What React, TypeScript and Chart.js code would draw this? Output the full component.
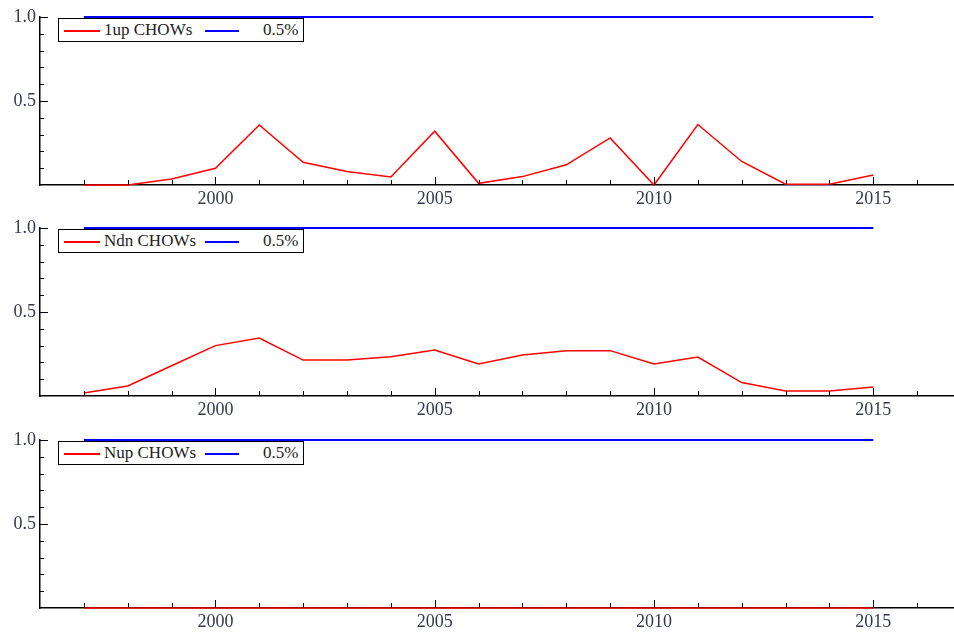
import React, { useEffect, useRef } from "react";
import { Chart, registerables } from "chart.js";

Chart.register(...registerables);

const years = [1997, 1998, 1999, 2000, 2001, 2002, 2003, 2004, 2005, 2006, 2007, 2008, 2009, 2010, 2011, 2012, 2013, 2014, 2015];
const upChows = [0, 0, 0.036, 0.1, 0.357, 0.135, 0.08, 0.048, 0.32, 0.01, 0.05, 0.12, 0.28, 0, 0.36, 0.14, 0.005, 0.005, 0.06];
const ndnChows = [0.018, 0.06, 0.18, 0.3, 0.345, 0.214, 0.214, 0.234, 0.274, 0.19, 0.244, 0.27, 0.27, 0.19, 0.232, 0.08, 0.03, 0.03, 0.053];
const nupChows = [0, 0, 0, 0, 0, 0, 0, 0, 0, 0, 0, 0, 0, 0, 0, 0, 0, 0, 0];
const critical = [1, 1, 1, 1, 1, 1, 1, 1, 1, 1, 1, 1, 1, 1, 1, 1, 1, 1, 1];
const xTickYears = [1997, 1998, 1999, 2000, 2001, 2002, 2003, 2004, 2005, 2006, 2007, 2008, 2009, 2010, 2011, 2012, 2013, 2014, 2015, 2016];
const xLabelYears = [2000, 2005, 2010, 2015];
const yTickValues = [0.1, 0.2, 0.3, 0.4, 0.5, 0.6, 0.7, 0.8, 0.9, 1.0];
const yLabelValues = [0.5, 1.0];

const panels = [
  { name: "1up CHOWs", values: upChows },
  { name: "Ndn CHOWs", values: ndnChows },
  { name: "Nup CHOWs", values: nupChows },
];
const criticalName = "0.5%";

const FONT = "'Liberation Serif', 'Times New Roman', serif";
const LABEL_COLOR = "#33384d";

const tickPlugin = {
  id: "inwardTicks",
  afterDraw(chart: any) {
    const { ctx, chartArea } = chart;
    const xs = chart.scales.x;
    const ys = chart.scales.y;
    ctx.save();
    ctx.strokeStyle = "#000";
    ctx.lineWidth = 1;
    ctx.beginPath();
    for (const yr of xTickYears) {
      const px = Math.round(xs.getPixelForValue(yr)) + 0.5;
      const len = yr % 5 === 0 ? 8 : 5;
      ctx.moveTo(px, chartArea.bottom);
      ctx.lineTo(px, chartArea.bottom - len);
    }
    for (const v of yTickValues) {
      const py = Math.round(ys.getPixelForValue(v)) + 0.5;
      const len = Math.abs((v * 10) % 5) < 0.01 ? 8 : 4;
      ctx.moveTo(chartArea.left, py);
      ctx.lineTo(chartArea.left + len, py);
    }
    ctx.stroke();
    ctx.restore();
  },
};

function Panel({ name, values, top }: { name: string; values: number[]; top: number }) {
  const ref = useRef<HTMLCanvasElement | null>(null);
  useEffect(() => {
    if (!ref.current) return;
    const chart = new Chart(ref.current, {
      type: "line",
      data: {
        datasets: [
          {
            label: criticalName,
            data: years.map((y, i) => ({ x: y, y: critical[i] })),
            borderColor: "rgb(0,0,255)",
            borderWidth: 2,
            pointRadius: 0,
            tension: 0,
            clip: false,
          },
          {
            label: name,
            data: years.map((y, i) => ({ x: y, y: values[i] })),
            borderColor: "rgb(255,0,0)",
            borderWidth: 1.5,
            pointRadius: 0,
            tension: 0,
            clip: false,
          },
        ],
      },
      options: {
        animation: false,
        responsive: false,
        maintainAspectRatio: false,
        layout: { padding: { top: 17, left: 0, right: 0, bottom: 0 } },
        plugins: { legend: { display: false }, tooltip: { enabled: false } },
        scales: {
          x: {
            type: "linear",
            min: 1996,
            max: 2016.84,
            grid: { display: false, drawTicks: false },
            border: { display: true, color: "#000", width: 1.5 },
            afterBuildTicks: (scale: any) => {
              scale.ticks = xLabelYears.map((v) => ({ value: v }));
            },
            afterFit: (scale: any) => {
              scale.height = 27;
            },
            ticks: {
              autoSkip: false,
              maxRotation: 0,
              padding: 3,
              color: LABEL_COLOR,
              font: { family: FONT, size: 18 },
              callback: (v: any) => String(v),
            },
          },
          y: {
            type: "linear",
            min: 0,
            max: 1,
            grid: { display: false, drawTicks: false },
            border: { display: true, color: "#000", width: 1.5 },
            afterBuildTicks: (scale: any) => {
              scale.ticks = yLabelValues.map((v) => ({ value: v }));
            },
            afterFit: (scale: any) => {
              scale.width = 40;
            },
            ticks: {
              padding: 4,
              color: LABEL_COLOR,
              font: { family: FONT, size: 18 },
              callback: (v: any) => Number(v).toFixed(1),
            },
          },
        },
      },
      plugins: [tickPlugin],
    });
    return () => chart.destroy();
  }, [name, values]);

  return (
    <div style={{ position: "absolute", left: 0, top, width: 954, height: 212 }}>
      <canvas ref={ref} width={954} height={212} style={{ width: 954, height: 212, display: "block" }} />
      <div
        style={{
          position: "absolute",
          left: 58,
          top: 18,
          width: 244,
          height: 22,
          border: "1.5px solid #000",
          background: "#fff",
          fontFamily: FONT,
          fontSize: 17,
          color: "#222",
        }}
      >
        <div style={{ position: "absolute", left: 5, top: 11, width: 36, height: 1.5, background: "rgb(255,0,0)" }} />
        <div style={{ position: "absolute", left: 45, top: 0, lineHeight: "22px", whiteSpace: "nowrap" }}>{name}</div>
        <div style={{ position: "absolute", left: 146, top: 10.5, width: 34, height: 2, background: "rgb(0,0,255)" }} />
        <div style={{ position: "absolute", left: 204, top: 0, lineHeight: "22px", whiteSpace: "nowrap" }}>{criticalName}</div>
      </div>
    </div>
  );
}

export default function App() {
  return (
    <div style={{ position: "fixed", left: 0, top: 0, width: 954, height: 635, background: "#fff", overflow: "hidden" }}>
      {panels.map((p, i) => (
        <Panel key={p.name} name={p.name} values={p.values} top={[0, 211, 423][i]} />
      ))}
    </div>
  );
}
